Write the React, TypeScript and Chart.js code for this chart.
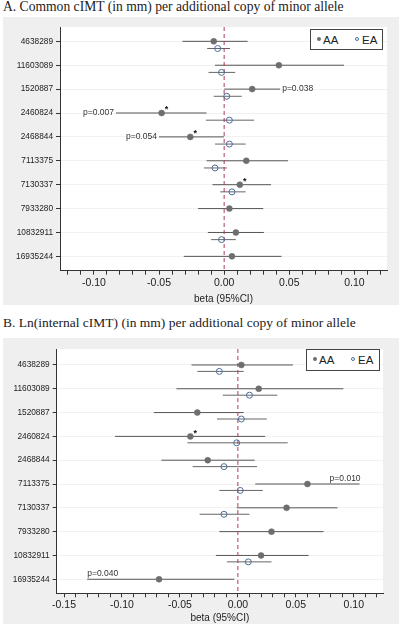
import React, { useEffect, useRef } from 'react';
import { Chart, registerables } from 'chart.js';
Chart.register(...registerables);

const snps = ['4638289', '11603089', '1520887', '2460824', '2468844', '7113375', '7130337', '7933280', '10832911', '16935244'];

// Panel A: Common cIMT
const aAABeta = [-0.008, 0.042, 0.0215, -0.048, -0.026, 0.017, 0.012, 0.004, 0.009, 0.006];
const aAALo = [-0.032, -0.007, 0.0, -0.083, -0.050, -0.0135, -0.009, -0.020, -0.0125, -0.031];
const aAAHi = [0.018, 0.092, 0.043, -0.0135, 0.0, 0.049, 0.036, 0.030, 0.0305, 0.044];
const aEABeta = [-0.005, -0.002, 0.002, 0.004, 0.004, -0.007, 0.006, null, -0.002, null];
const aEALo = [-0.013, -0.012, -0.008, -0.014, -0.007, -0.0155, -0.003, null, -0.010, null];
const aEAHi = [0.0045, 0.0085, 0.0135, 0.023, 0.0165, 0.002, 0.0165, null, 0.009, null];
const aNotes = [
  { row: 2, side: 'right', text: 'p=0.038' },
  { row: 3, side: 'left', text: 'p=0.007' },
  { row: 4, side: 'left', text: 'p=0.054' },
];
const aStars = [3, 4, 6];
const aXLabels = [-0.1, -0.05, 0, 0.05, 0.1];

// Panel B: Ln(internal cIMT)
const bAABeta = [0.003, 0.018, -0.035, -0.041, -0.026, 0.060, 0.042, 0.029, 0.020, -0.068];
const bAALo = [-0.040, -0.053, -0.0725, -0.106, -0.066, 0.015, -0.001, -0.016, -0.019, -0.130];
const bAAHi = [0.0475, 0.091, 0.005, 0.0235, 0.0145, 0.105, 0.086, 0.074, 0.061, -0.003];
const bEABeta = [-0.016, 0.010, 0.003, -0.001, -0.012, 0.002, -0.012, null, 0.009, null];
const bEALo = [-0.035, -0.013, -0.018, -0.0435, -0.039, -0.016, -0.033, null, -0.0095, null];
const bEAHi = [0.005, 0.034, 0.025, 0.043, 0.0165, 0.0215, 0.010, null, 0.029, null];
const bNotes = [
  { row: 5, side: 'aboveRight', text: 'p=0.010' },
  { row: 9, side: 'aboveLeft', text: 'p=0.040' },
];
const bStars = [3];
const bXLabels = [-0.15, -0.1, -0.05, 0, 0.05, 0.1];

const SANS = '"Liberation Sans", Arial, sans-serif';
const SERIF = '"Liberation Serif", "Times New Roman", serif';

type PanelProps = {
  aaBeta: number[]; aaLo: number[]; aaHi: number[];
  eaBeta: (number | null)[]; eaLo: (number | null)[]; eaHi: (number | null)[];
  notes: { row: number; side: string; text: string }[];
  stars: number[];
  xLabels: number[];
  xMin: number; xMax: number;
  yMin: number; yMax: number;
  eaOffset: number;
  width: number; height: number;
  yAxisWidth: number; xAxisHeight: number;
  padTop: number; padRight: number;
};

function segs(lo: (number | null)[], hi: (number | null)[], off: number) {
  const out: any[] = [];
  lo.forEach((l, i) => {
    const h = hi[i];
    if (l == null || h == null) return;
    out.push({ x: l, y: i + off }, { x: h, y: i + off }, { x: null, y: null });
  });
  return out;
}

function Panel(p: PanelProps) {
  const ref = useRef<HTMLCanvasElement>(null);
  useEffect(() => {
    const canvas = ref.current!;
    const bgPlugin = {
      id: 'bg',
      beforeDraw(chart: any) {
        const { ctx, chartArea } = chart;
        ctx.save();
        ctx.fillStyle = '#efefef';
        ctx.fillRect(0, 0, chart.width, chart.height);
        ctx.fillStyle = '#ffffff';
        ctx.fillRect(chartArea.left, chartArea.top, chartArea.right - chartArea.left, chartArea.bottom - chartArea.top);
        ctx.restore();
      },
    };
    const notePlugin = {
      id: 'notes',
      afterDatasetsDraw(chart: any) {
        const { ctx } = chart;
        const xs = chart.scales.x, ys = chart.scales.y;
        ctx.save();
        ctx.fillStyle = '#333';
        ctx.font = `8.5px ${SANS}`;
        ctx.textBaseline = 'middle';
        p.notes.forEach((n) => {
          const y = ys.getPixelForValue(n.row);
          if (n.side === 'right') {
            ctx.textAlign = 'left';
            ctx.fillText(n.text, xs.getPixelForValue(p.aaHi[n.row]) + 2, y);
          } else if (n.side === 'left') {
            ctx.textAlign = 'right';
            ctx.fillText(n.text, xs.getPixelForValue(p.aaLo[n.row]) - 2, y);
          } else if (n.side === 'aboveRight') {
            ctx.textAlign = 'right';
            ctx.fillText(n.text, xs.getPixelForValue(p.aaHi[n.row]) + 1, y - 5.5);
          } else {
            ctx.textAlign = 'left';
            ctx.fillText(n.text, xs.getPixelForValue(p.aaLo[n.row]), y - 5.5);
          }
        });
        ctx.font = `bold 9px ${SANS}`;
        ctx.textAlign = 'center';
        ctx.fillStyle = '#111';
        p.stars.forEach((r) => {
          const x = xs.getPixelForValue(p.aaBeta[r]);
          const y = ys.getPixelForValue(r);
          ctx.fillText('*', x + 5, y - 3);
        });
        ctx.restore();
      },
    };
    const aaPts = p.aaBeta.map((b, i) => ({ x: b, y: i }));
    const eaPts: any[] = [];
    p.eaBeta.forEach((b, i) => { if (b != null) eaPts.push({ x: b, y: i + p.eaOffset }); });
    const chart = new Chart(canvas, {
      type: 'scatter',
      data: {
        datasets: [
          { label: 'AA', data: aaPts, pointRadius: 3, pointBackgroundColor: '#6e6e6e', pointBorderColor: '#6e6e6e', pointBorderWidth: 0.5 } as any,
          { label: 'EA', data: eaPts, pointRadius: 3, pointBackgroundColor: 'rgba(255,255,255,0)', pointBorderColor: '#4d6f98', pointBorderWidth: 1 } as any,
          { label: 'zero', data: [{ x: 0, y: p.yMin }, { x: 0, y: p.yMax }], showLine: true, pointRadius: 0, borderColor: '#b03a60', borderWidth: 1, borderDash: [4, 3] } as any,
          { label: 'AA CI', data: segs(p.aaLo, p.aaHi, 0), showLine: true, spanGaps: false, pointRadius: 0, borderColor: '#555', borderWidth: 1 } as any,
          { label: 'EA CI', data: segs(p.eaLo, p.eaHi, p.eaOffset), showLine: true, spanGaps: false, pointRadius: 0, borderColor: '#666', borderWidth: 1 } as any,
        ],
      },
      options: {
        animation: false,
        responsive: false,
        devicePixelRatio: 1,
        layout: { padding: { top: p.padTop, right: p.padRight, left: 0, bottom: 0 } },
        plugins: { legend: { display: false }, tooltip: { enabled: false } },
        scales: {
          x: {
            type: 'linear',
            min: p.xMin,
            max: p.xMax,
            afterBuildTicks: (s: any) => {
              const t: any[] = [];
              for (let k = -15; k <= 12; k++) {
                const v = k / 100;
                if (v >= p.xMin - 1e-9 && v <= p.xMax + 1e-9) t.push({ value: v });
              }
              s.ticks = t;
            },
            afterFit: (s: any) => { s.height = p.xAxisHeight; },
            ticks: {
              autoSkip: false,
              maxRotation: 0,
              padding: 2,
              color: '#222',
              font: { family: SANS, size: 10.5 },
              callback: (v: any) => {
                const hit = p.xLabels.find((l) => Math.abs(l - v) < 1e-6);
                return hit !== undefined ? hit.toFixed(2) : '';
              },
            },
            grid: { drawOnChartArea: false, tickLength: 4, tickColor: '#333', lineWidth: 1 },
            border: { color: '#333', width: 1 },
            title: { display: true, text: 'beta (95%CI)', color: '#222', font: { family: SANS, size: 10 }, padding: { top: 0, bottom: 0 } },
          },
          y: {
            type: 'linear',
            reverse: true,
            min: p.yMin,
            max: p.yMax,
            afterBuildTicks: (s: any) => { s.ticks = snps.map((_, i) => ({ value: i })); },
            afterFit: (s: any) => { s.width = p.yAxisWidth; },
            ticks: {
              autoSkip: false,
              padding: 3,
              color: '#222',
              font: { family: SANS, size: 8.3 },
              callback: (v: any) => snps[Math.round(v)] ?? '',
            },
            grid: { color: '#f1f1f1', tickColor: '#333', tickLength: 4, lineWidth: 1 },
            border: { color: '#333', width: 1 },
          },
        },
      },
      plugins: [bgPlugin, notePlugin],
    } as any);
    return () => chart.destroy();
  }, []);
  return <canvas ref={ref} width={p.width} height={p.height} style={{ width: p.width, height: p.height, display: 'block' }} />;
}

function Legend({ left, top, width, height }: { left: number; top: number; width: number; height: number }) {
  return (
    <div style={{ position: 'absolute', left, top, width, height, border: '1px solid #444', background: '#fff', boxSizing: 'border-box', fontFamily: SANS, fontSize: 11.5, color: '#222' }}>
      <span style={{ position: 'absolute', left: 6, top: 7, width: 4, height: 4, borderRadius: 2, background: '#6e6e6e' }} />
      <span style={{ position: 'absolute', left: 12, top: 3, lineHeight: '14px' }}>AA</span>
      <span style={{ position: 'absolute', left: 44, top: 6.5, width: 4, height: 4, borderRadius: 3, border: '1px solid #4d6f98', boxSizing: 'border-box' }} />
      <span style={{ position: 'absolute', left: 51, top: 3, lineHeight: '14px' }}>EA</span>
    </div>
  );
}

export default function App() {
  useEffect(() => { document.body.style.margin = '0'; }, []);
  return (
    <div style={{ position: 'absolute', left: 0, top: 0, width: 404, height: 626, background: '#fff', overflow: 'hidden' }}>
      <div style={{ position: 'absolute', left: 3, top: 0, fontFamily: SERIF, fontSize: 13.6, lineHeight: '13px', color: '#222', whiteSpace: 'nowrap' }}>
        A. Common cIMT (in mm) per additional copy of minor allele
      </div>
      <div style={{ position: 'absolute', left: 3, top: 17 }}>
        <Panel aaBeta={aAABeta} aaLo={aAALo} aaHi={aAAHi} eaBeta={aEABeta} eaLo={aEALo} eaHi={aEAHi}
          notes={aNotes} stars={aStars} xLabels={aXLabels}
          xMin={-0.126} xMax={0.125} yMin={-0.6} yMax={9.6} eaOffset={0.3}
          width={396} height={288} yAxisWidth={57} xAxisHeight={34.3} padTop={10} padRight={12} />
      </div>
      <Legend left={310} top={29} width={73} height={21} />
      <div style={{ position: 'absolute', left: 3, top: 315.5, fontFamily: SERIF, fontSize: 13.5, lineHeight: '13px', color: '#222', whiteSpace: 'nowrap' }}>
        B. Ln(internal cIMT) (in mm) per additional copy of minor allele
      </div>
      <div style={{ position: 'absolute', left: 3, top: 338 }}>
        <Panel aaBeta={bAABeta} aaLo={bAALo} aaHi={bAAHi} eaBeta={bEABeta} eaLo={bEALo} eaHi={bEAHi}
          notes={bNotes} stars={bStars} xLabels={bXLabels}
          xMin={-0.1563} xMax={0.1252} yMin={-0.67} yMax={9.59} eaOffset={0.27}
          width={396} height={286} yAxisWidth={53.7} xAxisHeight={30.7} padTop={11} padRight={16} />
      </div>
      <Legend left={306} top={349} width={74} height={22} />
    </div>
  );
}
